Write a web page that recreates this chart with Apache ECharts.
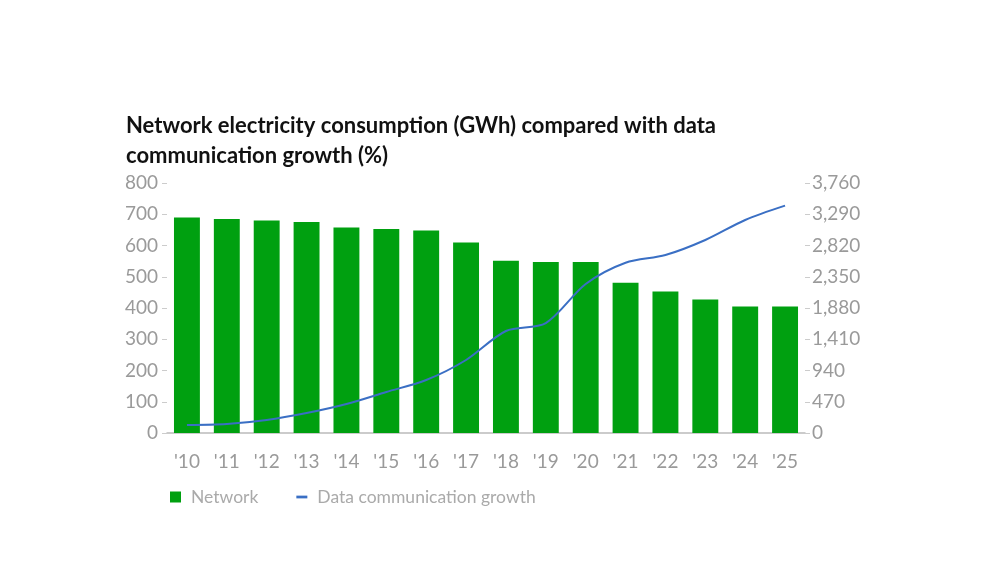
<!DOCTYPE html>
<html>
<head>
<meta charset="utf-8">
<script src="https://cdn.jsdelivr.net/npm/echarts@6/dist/echarts.min.js"></script>
<style>
  html, body { margin: 0; padding: 0; background: #fff; }
  #chart { width: 992px; height: 564px; }
</style>
</head>
<body>
<div id="chart"></div>
<script>
// === DATA ===
const years = ["'10", "'11", "'12", "'13", "'14", "'15", "'16", "'17", "'18", "'19", "'20", "'21", "'22", "'23", "'24", "'25"];
const networkGwh = [690, 685, 680, 675, 658, 653, 648, 610, 551, 547, 547, 481, 453, 427, 405, 405];
const dataGrowth = [120, 135, 195, 300, 436, 617, 797, 1098, 1534, 1654, 2241, 2561, 2677, 2903, 3204, 3419];

// === STYLE ===
const GREEN = '#00a010';
const BLUE = '#3a6fc4';
const GREY_TEXT = '#9a9a9a';
const FONT = 'Lato, "Noto Sans", sans-serif';

const chart = echarts.init(document.getElementById('chart'));

chart.setOption({
    backgroundColor: '#fff',
    animation: false,
    title: {
        text: 'Network electricity consumption (GWh) compared with data\ncommunication growth (%)',
        left: 121,
        top: 106,
        textStyle: { color: '#111', fontSize: 22, fontWeight: 'bold', fontFamily: FONT, lineHeight: 30 }
    },
    legend: {
        left: 165,
        top: 483,
        itemWidth: 11,
        itemHeight: 11,
        itemGap: 38,
        textStyle: { color: '#aaa', fontSize: 17.5, fontFamily: FONT, padding: [0, 0, 0, 5] },
        data: [
            { name: 'Network', icon: 'rect' },
            { name: 'Data communication growth', icon: 'path://M0,0 L8,0 L8,2 L0,2 Z' }
        ]
    },
    grid: { left: 167, right: 187, top: 183, bottom: 131 },
    xAxis: {
        type: 'category',
        data: years,
        axisLine: { lineStyle: { color: '#bbb', width: 1.5 } },
        axisTick: { show: false },
        axisLabel: { color: GREY_TEXT, fontSize: 19, fontFamily: FONT, margin: 19 }
    },
    yAxis: [
        {
            type: 'value',
            min: 0,
            max: 800,
            interval: 100,
            axisLine: { show: false },
            axisTick: { show: true, length: 5, lineStyle: { color: '#ccc' } },
            splitLine: { show: false },
            axisLabel: { color: GREY_TEXT, fontSize: 19, fontFamily: FONT, margin: 9 }
        },
        {
            type: 'value',
            min: 0,
            max: 3760,
            interval: 470,
            position: 'right',
            axisLine: { show: false },
            axisTick: { show: true, length: 5, lineStyle: { color: '#ccc' } },
            splitLine: { show: false },
            axisLabel: {
                color: GREY_TEXT, fontSize: 19, fontFamily: FONT, margin: 7,
                formatter: v => v.toLocaleString('en-US')
            }
        }
    ],
    series: [
        {
            name: 'Network',
            type: 'bar',
            data: networkGwh,
            barCategoryGap: '35%',
            itemStyle: { color: GREEN }
        },
        {
            name: 'Data communication growth',
            type: 'line',
            yAxisIndex: 1,
            data: dataGrowth,
            smooth: 0.3,
            symbol: 'none',
            lineStyle: { color: BLUE, width: 2 },
            itemStyle: { color: BLUE }
        }
    ]
});
</script>
</body>
</html>
